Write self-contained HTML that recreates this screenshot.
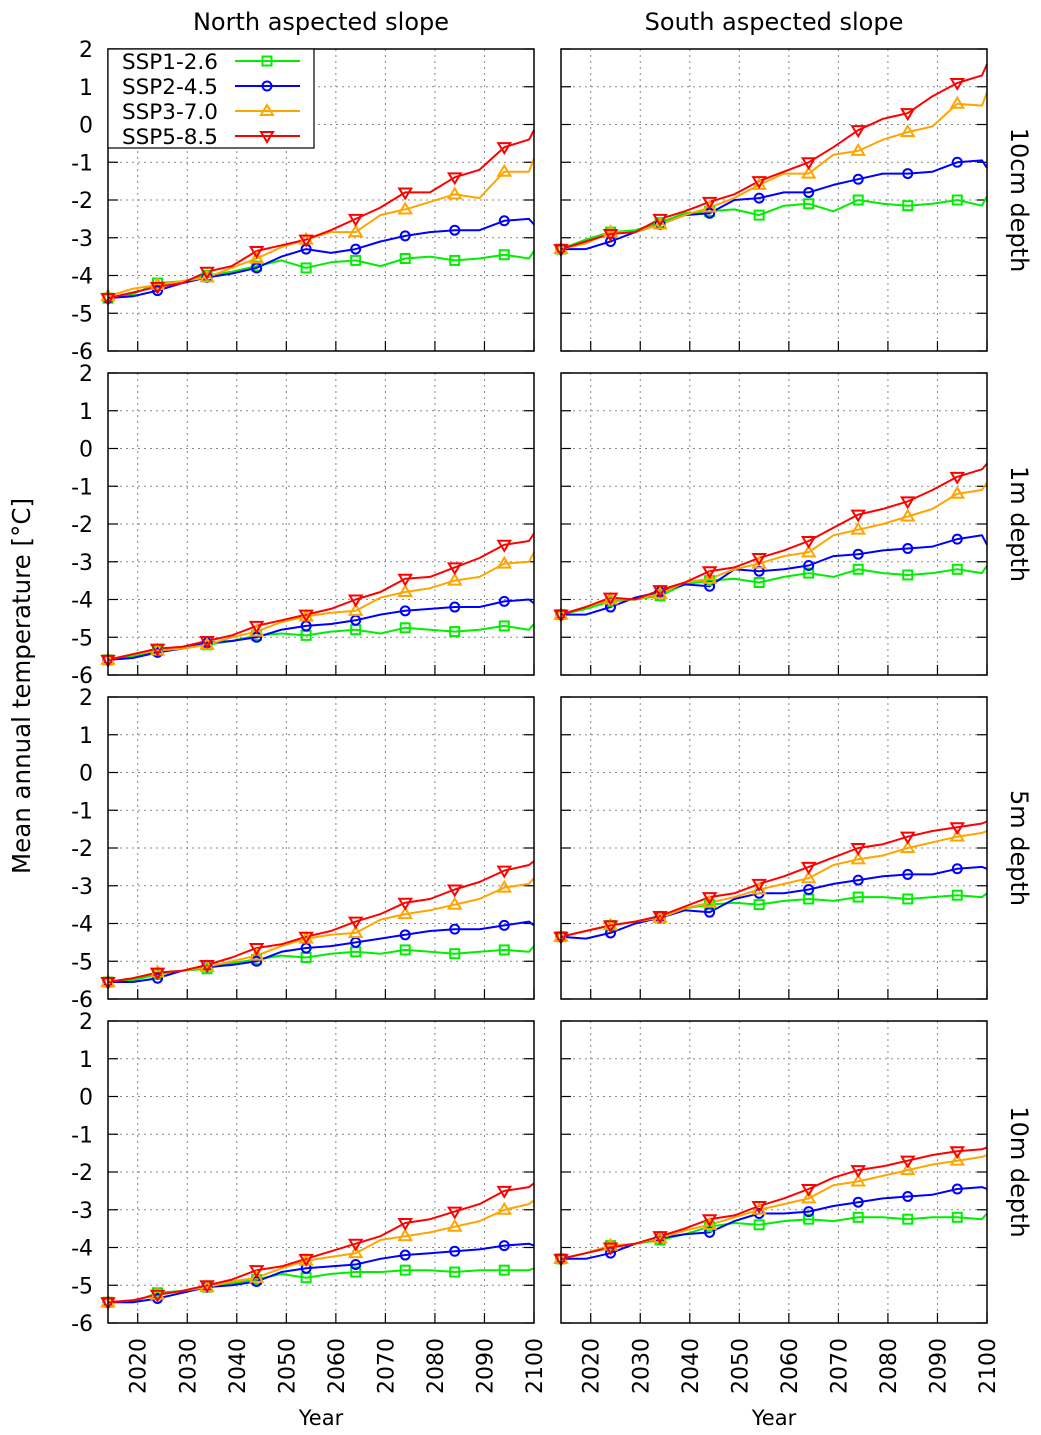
<!DOCTYPE html>
<html><head><meta charset="utf-8"><style>
html,body{margin:0;padding:0;background:#fff;}
svg{display:block;font-family:"DejaVu Sans","Liberation Sans",sans-serif;}
</style></head><body>
<svg id="fig" width="1041" height="1435" viewBox="0 0 1041 1435"></svg>
<script>
const years = [2014,2019,2024,2029,2034,2039,2044,2049,2054,2059,2064,2069,2074,2079,2084,2089,2094,2099,2100];
const seriesNames = ["SSP1-2.6","SSP2-4.5","SSP3-7.0","SSP5-8.5"];
const xTicks = [2020,2030,2040,2050,2060,2070,2080,2090,2100];
const yTicks = [2,1,0,-1,-2,-3,-4,-5,-6];
const markerYears = [2014,2024,2034,2044,2054,2064,2074,2084,2094];
// panel: north 10cm
const n10cm_ssp1 = [-4.6,-4.5,-4.2,-4.15,-4.0,-3.9,-3.75,-3.6,-3.8,-3.65,-3.6,-3.75,-3.55,-3.5,-3.6,-3.55,-3.45,-3.55,-3.35];
const n10cm_ssp2 = [-4.6,-4.55,-4.4,-4.2,-4.05,-3.95,-3.8,-3.5,-3.3,-3.4,-3.3,-3.1,-2.95,-2.85,-2.8,-2.8,-2.55,-2.5,-2.65];
const n10cm_ssp3 = [-4.55,-4.35,-4.25,-4.15,-4.05,-3.8,-3.55,-3.25,-3.05,-2.85,-2.85,-2.4,-2.25,-2.05,-1.85,-1.95,-1.25,-1.25,-0.9];
const n10cm_ssp5 = [-4.6,-4.45,-4.3,-4.2,-3.9,-3.75,-3.35,-3.2,-3.05,-2.8,-2.5,-2.2,-1.8,-1.8,-1.4,-1.2,-0.6,-0.4,-0.15];
// south 10cm
const s10cm_ssp1 = [-3.3,-3.05,-2.85,-2.8,-2.6,-2.35,-2.3,-2.25,-2.4,-2.15,-2.1,-2.3,-2.0,-2.1,-2.15,-2.1,-2.0,-2.15,-1.9];
const s10cm_ssp2 = [-3.3,-3.3,-3.1,-2.85,-2.65,-2.4,-2.35,-2.0,-1.95,-1.8,-1.8,-1.6,-1.45,-1.3,-1.3,-1.25,-1.0,-0.95,-1.15];
const s10cm_ssp3 = [-3.3,-3.15,-2.85,-2.85,-2.65,-2.4,-2.2,-1.95,-1.6,-1.3,-1.3,-0.8,-0.7,-0.4,-0.2,-0.05,0.55,0.5,0.85];
const s10cm_ssp5 = [-3.3,-3.1,-2.9,-2.85,-2.5,-2.3,-2.05,-1.85,-1.5,-1.25,-1.0,-0.6,-0.15,0.15,0.3,0.75,1.1,1.3,1.6];
// north 1m
const n1m_ssp1 = [-5.6,-5.5,-5.35,-5.3,-5.2,-5.1,-4.95,-4.9,-4.95,-4.85,-4.8,-4.9,-4.75,-4.8,-4.85,-4.8,-4.7,-4.8,-4.65];
const n1m_ssp2 = [-5.6,-5.55,-5.4,-5.3,-5.15,-5.1,-5.0,-4.8,-4.7,-4.65,-4.55,-4.4,-4.3,-4.25,-4.2,-4.2,-4.05,-4.0,-4.1];
const n1m_ssp3 = [-5.6,-5.45,-5.35,-5.3,-5.2,-5.0,-4.85,-4.6,-4.45,-4.35,-4.3,-3.95,-3.8,-3.7,-3.5,-3.4,-3.05,-3.0,-2.75];
const n1m_ssp5 = [-5.6,-5.45,-5.3,-5.25,-5.1,-4.95,-4.7,-4.55,-4.4,-4.25,-4.0,-3.8,-3.45,-3.4,-3.15,-2.9,-2.55,-2.45,-2.25];
// south 1m
const s1m_ssp1 = [-4.4,-4.25,-4.05,-4.0,-3.9,-3.6,-3.5,-3.45,-3.55,-3.4,-3.3,-3.4,-3.2,-3.3,-3.35,-3.3,-3.2,-3.3,-3.1];
const s1m_ssp2 = [-4.4,-4.4,-4.2,-3.95,-3.8,-3.6,-3.65,-3.2,-3.25,-3.2,-3.1,-2.85,-2.8,-2.7,-2.65,-2.6,-2.4,-2.3,-2.55];
const s1m_ssp3 = [-4.4,-4.2,-4.0,-4.0,-3.85,-3.55,-3.45,-3.2,-3.05,-2.85,-2.75,-2.3,-2.15,-2.0,-1.8,-1.6,-1.2,-1.1,-0.9];
const s1m_ssp5 = [-4.4,-4.2,-3.95,-4.0,-3.75,-3.55,-3.25,-3.15,-2.9,-2.7,-2.45,-2.1,-1.75,-1.6,-1.4,-1.1,-0.75,-0.55,-0.4];
// north 5m
const n5m_ssp1 = [-5.55,-5.5,-5.35,-5.25,-5.2,-5.05,-4.95,-4.85,-4.9,-4.8,-4.75,-4.8,-4.7,-4.75,-4.8,-4.75,-4.7,-4.75,-4.6];
const n5m_ssp2 = [-5.55,-5.55,-5.45,-5.25,-5.15,-5.1,-5.0,-4.75,-4.65,-4.6,-4.5,-4.4,-4.3,-4.2,-4.15,-4.15,-4.05,-3.95,-4.05];
const n5m_ssp3 = [-5.55,-5.45,-5.3,-5.25,-5.15,-5.0,-4.85,-4.6,-4.4,-4.3,-4.25,-3.9,-3.75,-3.65,-3.5,-3.35,-3.05,-2.95,-2.8];
const n5m_ssp5 = [-5.55,-5.45,-5.3,-5.25,-5.1,-4.9,-4.65,-4.55,-4.35,-4.2,-3.95,-3.75,-3.45,-3.35,-3.1,-2.9,-2.6,-2.45,-2.35];
// south 5m
const s5m_ssp1 = [-4.35,-4.2,-4.05,-3.95,-3.85,-3.6,-3.5,-3.45,-3.5,-3.4,-3.35,-3.4,-3.3,-3.3,-3.35,-3.3,-3.25,-3.3,-3.2];
const s5m_ssp2 = [-4.35,-4.4,-4.25,-4.0,-3.85,-3.65,-3.7,-3.35,-3.2,-3.2,-3.1,-2.95,-2.85,-2.75,-2.7,-2.7,-2.55,-2.5,-2.55];
const s5m_ssp3 = [-4.35,-4.2,-4.05,-3.95,-3.85,-3.6,-3.45,-3.3,-3.1,-2.95,-2.8,-2.45,-2.3,-2.2,-2.0,-1.85,-1.7,-1.6,-1.55];
const s5m_ssp5 = [-4.35,-4.2,-4.05,-3.95,-3.8,-3.55,-3.3,-3.2,-2.95,-2.75,-2.5,-2.25,-2.0,-1.9,-1.7,-1.55,-1.45,-1.35,-1.3];
// north 10m
const n10m_ssp1 = [-5.45,-5.45,-5.2,-5.15,-5.05,-4.95,-4.85,-4.7,-4.8,-4.7,-4.65,-4.65,-4.6,-4.6,-4.65,-4.6,-4.6,-4.6,-4.55];
const n10m_ssp2 = [-5.45,-5.45,-5.35,-5.2,-5.05,-5.0,-4.9,-4.65,-4.55,-4.5,-4.45,-4.3,-4.2,-4.15,-4.1,-4.05,-3.95,-3.9,-3.95];
const n10m_ssp3 = [-5.45,-5.4,-5.25,-5.15,-5.05,-4.9,-4.8,-4.55,-4.35,-4.25,-4.15,-3.8,-3.7,-3.6,-3.45,-3.3,-3.0,-2.85,-2.75];
const n10m_ssp5 = [-5.45,-5.4,-5.25,-5.15,-5.0,-4.85,-4.6,-4.5,-4.3,-4.1,-3.9,-3.7,-3.35,-3.25,-3.05,-2.85,-2.5,-2.4,-2.3];
// south 10m
const s10m_ssp1 = [-4.3,-4.15,-3.95,-3.9,-3.8,-3.65,-3.45,-3.35,-3.4,-3.3,-3.25,-3.3,-3.2,-3.2,-3.25,-3.2,-3.2,-3.25,-3.1];
const s10m_ssp2 = [-4.3,-4.3,-4.15,-3.9,-3.75,-3.65,-3.6,-3.3,-3.1,-3.1,-3.05,-2.9,-2.8,-2.7,-2.65,-2.6,-2.45,-2.4,-2.45];
const s10m_ssp3 = [-4.3,-4.15,-3.95,-3.9,-3.75,-3.55,-3.4,-3.2,-3.0,-2.85,-2.7,-2.35,-2.25,-2.1,-1.95,-1.8,-1.7,-1.6,-1.55];
const s10m_ssp5 = [-4.3,-4.15,-4.0,-3.9,-3.7,-3.5,-3.25,-3.15,-2.9,-2.7,-2.45,-2.15,-1.95,-1.85,-1.7,-1.55,-1.45,-1.4,-1.35];

const panelData = [
 [n10cm_ssp1,n10cm_ssp2,n10cm_ssp3,n10cm_ssp5],[s10cm_ssp1,s10cm_ssp2,s10cm_ssp3,s10cm_ssp5],
 [n1m_ssp1,n1m_ssp2,n1m_ssp3,n1m_ssp5],[s1m_ssp1,s1m_ssp2,s1m_ssp3,s1m_ssp5],
 [n5m_ssp1,n5m_ssp2,n5m_ssp3,n5m_ssp5],[s5m_ssp1,s5m_ssp2,s5m_ssp3,s5m_ssp5],
 [n10m_ssp1,n10m_ssp2,n10m_ssp3,n10m_ssp5],[s10m_ssp1,s10m_ssp2,s10m_ssp3,s10m_ssp5]];
const rowLabels = ["10cm depth","1m depth","5m depth","10m depth"];
const colors = ["#00ee00","#0000ff","#ffa500","#ff0000"];
const markerTypes = ["square","circle","triangle","invtriangle"];

const NS="http://www.w3.org/2000/svg";
const svg=document.getElementById('fig');
function el(tag,attrs,parent){const e=document.createElementNS(NS,tag);for(const k in attrs)e.setAttribute(k,attrs[k]);(parent||svg).appendChild(e);return e;}
const colX=[108,561], W=426, rowY=[49,373,697,1021], H=302;
const X0=2014,X1=2100,Y0=-6,Y1=2;

function drawMarker(g,type,x,y,c){
  let m;
  if(type==="square") m=el('rect',{x:x-4.5,y:y-4.5,width:9,height:9,fill:'none',stroke:c,'stroke-width':2},g);
  else if(type==="circle") m=el('circle',{cx:x,cy:y,r:4.5,fill:'none',stroke:c,'stroke-width':2},g);
  else if(type==="triangle") m=el('polygon',{points:`${x},${y-6} ${x-6},${y+4} ${x+6},${y+4}`,fill:'none',stroke:c,'stroke-width':2},g);
  else m=el('polygon',{points:`${x},${y+6} ${x-6},${y-4} ${x+6},${y-4}`,fill:'none',stroke:c,'stroke-width':2},g);
  
  
}

for(let r=0;r<4;r++)for(let c=0;c<2;c++){
  const L=colX[c],T=rowY[r];
  const sx=v=>L+(v-X0)/(X1-X0)*W;
  const sy=v=>T+(Y1-v)/(Y1-Y0)*H;
  const g=el('g',{});
  
  
  xTicks.forEach(t=>{ if(t<X1){const gl=el('line',{x1:sx(t),x2:sx(t),y1:T,y2:T+H,stroke:'#888','stroke-width':1,'stroke-dasharray':'2,4'},g);}});
  yTicks.forEach(t=>{ if(t>Y0&&t<Y1){const gl=el('line',{x1:L,x2:L+W,y1:sy(t),y2:sy(t),stroke:'#888','stroke-width':1,'stroke-dasharray':'2,4'},g);}});
  xTicks.forEach(t=>{el('line',{x1:sx(t),x2:sx(t),y1:T+H,y2:T+H-10,stroke:'#000','stroke-width':1.2},g);
    if(r===3){const tx=el('text',{x:0,y:0,transform:`translate(${sx(t)+8},1394) rotate(-90)`,'font-size':22,fill:'#000'},g);tx.textContent=t;}});
  yTicks.forEach(t=>{el('line',{x1:L,x2:L+10,y1:sy(t),y2:sy(t),stroke:'#000','stroke-width':1.2},g);
    el('line',{x1:L+W,x2:L+W-10,y1:sy(t),y2:sy(t),stroke:'#000','stroke-width':1.2},g);
    if(c===0){const tx=el('text',{x:93,y:sy(t)+8,'text-anchor':'end','font-size':22,fill:'#000'},g);tx.textContent=t;}});
  const data=panelData[r*2+c];
  data.forEach((vals,si)=>{
    const pts=years.map((y,i)=>`${sx(y).toFixed(1)},${sy(vals[i]).toFixed(1)}`).join(' ');
    const pl=el('polyline',{points:pts,fill:'none',stroke:colors[si],'stroke-width':2,'stroke-linejoin':'round'},g);
    
    
  });
  data.forEach((vals,si)=>{
    markerYears.forEach(my=>{const i=years.indexOf(my);drawMarker(g,markerTypes[si],sx(my),sy(vals[i]),colors[si]);});
  });
  const fr=el('rect',{x:L,y:T,width:W,height:H,fill:'none',stroke:'#000','stroke-width':1.5},g);
  
  if(c===1){const rl=el('text',{x:0,y:0,transform:`translate(1011,${T+H/2}) rotate(90)`,'text-anchor':'middle','font-size':24,fill:'#000'},g);rl.textContent=rowLabels[r];}
}
const lg=el('g',{});


el('rect',{x:108,y:49,width:206,height:99,fill:'#fff',stroke:'#000','stroke-width':1.2},lg);
seriesNames.forEach((n,i)=>{
  const y=61+i*25;
  const t=el('text',{x:122,y:y+8,'font-size':21.5,fill:'#000'},lg);t.textContent=n;
  
  el('line',{x1:235,x2:300,y1:y,y2:y,stroke:colors[i],'stroke-width':2},lg);
  drawMarker(lg,markerTypes[i],267,y,colors[i]);
});
[["North aspected slope",321],["South aspected slope",774]].forEach(([s,x])=>{const t=el('text',{x:x,y:30,'text-anchor':'middle','font-size':24,fill:'#000'});t.textContent=s;});
[321,774].forEach(x=>{const t=el('text',{x:x,y:1425,'text-anchor':'middle','font-size':21,fill:'#000'});t.textContent='Year';});
const yt=el('text',{x:0,y:0,transform:'translate(30,686) rotate(-90)','text-anchor':'middle','font-size':24.5,fill:'#000'});
yt.textContent='Mean annual temperature [°C]';


</script>
</body></html>
